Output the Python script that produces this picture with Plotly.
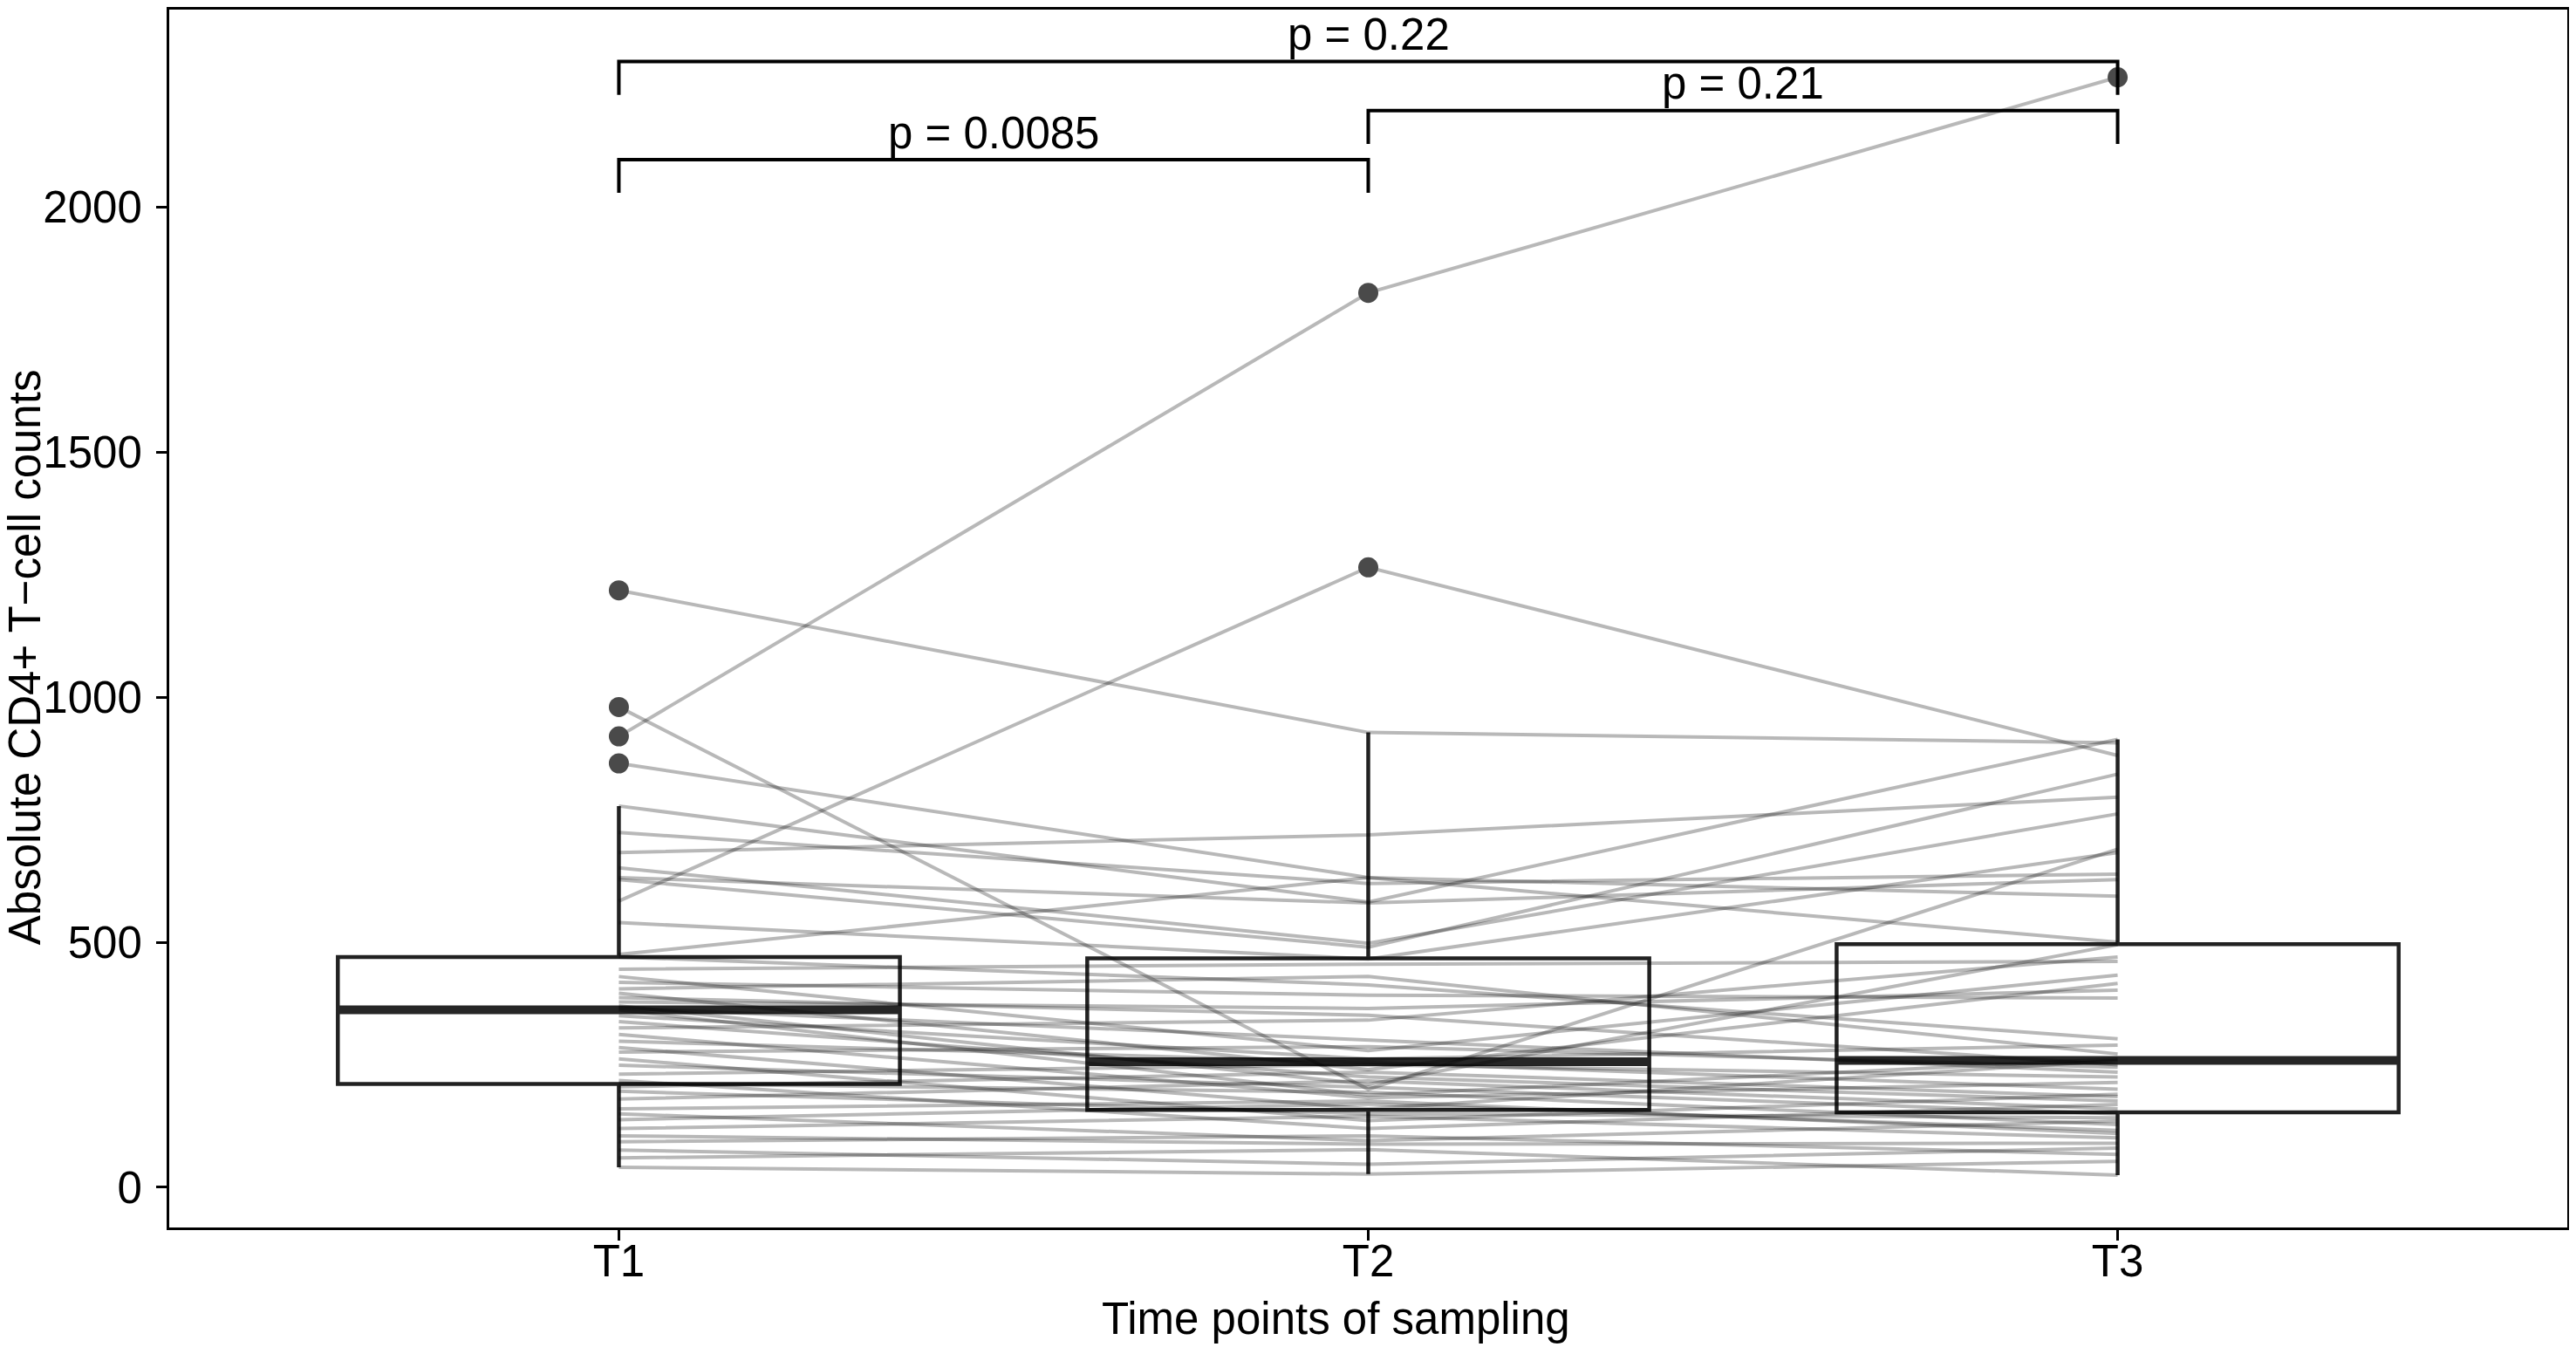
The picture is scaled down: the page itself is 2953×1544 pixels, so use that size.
import plotly.graph_objects as go

# paired CD4+ counts per subject at the three sampling times
t1_vals = [920, 1218, 584, 980, 865, 778, 683, 724, 652, 632, 628, 540,
           475, 470, 445, 430, 418, 405, 396, 387, 378, 370, 366, 362,
           350, 338, 325, 312, 298, 285, 276, 262, 249, 231, 218, 212,
           205, 196, 180, 160, 150, 138, 120, 105, 93, 76, 60, 41]
t2_vals = [1825, 928, 1265, 200, 632, 582, 719, 620, 498, 580, 490, 466,
           632, 413, 455, 279, 392, 430, 240, 351, 365, 210, 300, 188,
           262, 225, 341, 183, 255, 160, 287, 136, 204, 250, 120, 194,
           235, 150, 217, 176, 95, 170, 145, 88, 105, 47, 77, 27]
t3_vals = [2265, 907, 881, 690, 594, 914, 796, 639, 762, 628, 843, 683,
           500, 303, 461, 433, 386, 272, 416, 250, 402, 495, 235, 262,
           290, 176, 470, 214, 200, 259, 245, 190, 150, 225, 169, 128,
           185, 142, 160, 110, 135, 116, 101, 90, 67, 80, 25, 53]

times = ["T1", "T2", "T3"]
time_pos = [1, 2, 3]

# box statistics as drawn
box_q1 = [211, 158, 153]
box_median = [362, 256, 259]
box_q3 = [470, 467, 496]
box_low = [41, 27, 25]
box_high = [778, 928, 914]

out_time = [1, 1, 1, 1, 2, 2, 3]
out_vals = [1218, 980, 920, 865, 1825, 1265, 2265]

# significance brackets
br_from = [1, 2, 1]
br_to = [2, 3, 3]
br_y = [2097, 2197, 2297]
p_labels = ["p = 0.0085", "p = 0.21", "p = 0.22"]

font = "Liberation Sans, Arial, Helvetica, sans-serif"
box_w = 0.75

fig = go.Figure()

fig.add_trace(go.Box(
    x=time_pos, q1=box_q1, median=box_median, q3=box_q3,
    lowerfence=box_low, upperfence=box_high,
    width=box_w, whiskerwidth=0, boxpoints=False,
    line=dict(color="#222222", width=4.5),
    fillcolor="rgba(255,255,255,0)", showlegend=False, hoverinfo="skip"))

# thicker median bar like ggplot
mx, my = [], []
for p, m in zip(time_pos, box_median):
    mx += [p - box_w / 2, p + box_w / 2, None]
    my += [m, m, None]
fig.add_trace(go.Scatter(x=mx, y=my, mode="lines",
                         line=dict(color="#262626", width=10),
                         showlegend=False, hoverinfo="skip"))

for a, b, c in zip(t1_vals, t2_vals, t3_vals):
    fig.add_trace(go.Scatter(x=time_pos, y=[a, b, c], mode="lines",
                             line=dict(color="rgba(0,0,0,0.28)", width=4),
                             showlegend=False, hoverinfo="skip"))

fig.add_trace(go.Scatter(x=out_time, y=out_vals, mode="markers",
                         marker=dict(color="#4a4a4a", size=23),
                         showlegend=False, hoverinfo="skip"))

tip = 68
for f, t, h, lab in zip(br_from, br_to, br_y, p_labels):
    fig.add_trace(go.Scatter(x=[f, f, t, t], y=[h - tip, h, h, h - tip],
                             mode="lines", line=dict(color="black", width=4),
                             showlegend=False, hoverinfo="skip"))
    fig.add_annotation(x=(f + t) / 2, y=h + 55, text=lab, showarrow=False,
                       xanchor="center", yanchor="middle",
                       font=dict(family=font, size=51, color="black"))

fig.add_annotation(xref="paper", yref="paper", x=-0.0602, y=0.468,
                   text="Absolute CD4+ T\u2212cell counts", textangle=-90,
                   showarrow=False, xanchor="center", yanchor="middle",
                   font=dict(family=font, size=51, color="black"))
fig.add_annotation(xref="paper", yref="paper", x=0.4864, y=-0.0751,
                   text="Time points of sampling", showarrow=False,
                   xanchor="center", yanchor="middle",
                   font=dict(family=font, size=51, color="black"))

axis_common = dict(showline=True, mirror=True, linecolor="black", linewidth=3,
                   ticks="outside", ticklen=12, tickwidth=3, tickcolor="black",
                   showgrid=False, zeroline=False,
                   tickfont=dict(family=font, size=51, color="black"))

fig.update_xaxes(range=[0.4, 3.6], tickvals=time_pos, ticktext=times,
                 ticklabelstandoff=-20, **axis_common)
fig.update_yaxes(range=[-82, 2403], tickvals=[0, 500, 1000, 1500, 2000],
                 ticklabelstandoff=6, **axis_common)

# page body has an 8px margin, so the figure is sized to fit the window
fig.update_layout(width=2945, height=1536,
                  margin=dict(l=186, r=10, t=0, b=137),
                  plot_bgcolor="white", paper_bgcolor="white",
                  font=dict(family=font))

fig.write_html("out.html")
